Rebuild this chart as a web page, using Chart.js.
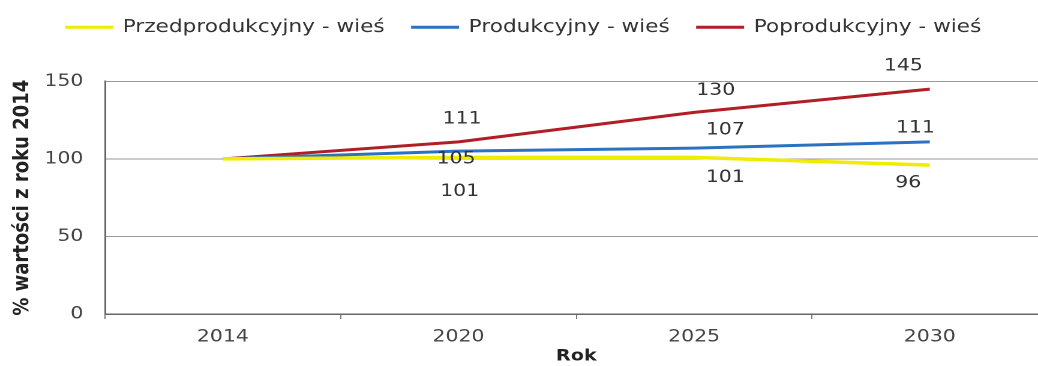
<!DOCTYPE html>
<html>
<head>
<meta charset="utf-8">
<script src="https://cdn.jsdelivr.net/npm/chart.js@4"></script>
<style>
  html, body { margin: 0; padding: 0; background: #fff; overflow: hidden; }
  #wrap { width: 1038px; height: 366px; overflow: hidden; }
  /* the source image is stretched sideways, so the chart is drawn narrower and stretched back;
     its plot runs a little past the right edge, hence the extra width that gets clipped */
  #box { width: 873px; height: 366px; transform: scaleX(1.2); transform-origin: 0 0; }
</style>
</head>
<body>
<div id="wrap"><div id="box"><canvas id="chart" width="873" height="366"></canvas></div></div>
<script>
// data
var years = ["2014", "2020", "2025", "2030"];
var przed = [100, 101, 101, 96];
var prod = [100, 105, 107, 111];
var popro = [100, 111, 130, 145];
var seriesNames = ["Przedprodukcyjny - wieś", "Produkcyjny - wieś", "Poprodukcyjny - wieś"];

// value labels next to the points (offsets in px from the point)
var pointLabels = {
    id: "pointLabels",
    afterDatasetsDraw: function (chart) {
        var c = chart.ctx;
        c.save();
        c.font = "17px 'DejaVu Sans'";
        c.fillStyle = "#333";
        c.textAlign = "center";
        c.textBaseline = "middle";
        chart.data.datasets.forEach(function (ds, i) {
            var meta = chart.getDatasetMeta(i);
            meta.data.forEach(function (pt, j) {
                if (j === 0) return;
                var off = ds.labelOffsets[j];
                c.fillText(ds.data[j], pt.x + off[0], pt.y + off[1]);
            });
        });
        c.restore();
    }
};

var ctx = document.getElementById("chart");
var myChart = new Chart(ctx, {
    type: "line",
    data: {
        labels: years,
        datasets: [
            {
                label: seriesNames[0],
                data: przed,
                borderColor: "#f0ec00",
                backgroundColor: "#f0ec00",
                borderWidth: 3.5,
                pointRadius: 0,
                tension: 0,
                labelOffsets: [[0, 0], [1, 34], [26, 20], [-18, 18]]
            },
            {
                label: seriesNames[1],
                data: prod,
                borderColor: "#2d72c2",
                backgroundColor: "#2d72c2",
                borderWidth: 3,
                pointRadius: 0,
                tension: 0,
                labelOffsets: [[0, 0], [-2, 8], [26, -18], [-12, -14]]
            },
            {
                label: seriesNames[2],
                data: popro,
                borderColor: "#b01e26",
                backgroundColor: "#b01e26",
                borderWidth: 3,
                pointRadius: 0,
                tension: 0,
                labelOffsets: [[0, 0], [3, -23], [18, -22], [-22, -23]]
            }
        ]
    },
    options: {
        responsive: false,
        animation: false,
        devicePixelRatio: 2,
        layout: { padding: { top: -8, right: 0, bottom: 0, left: 0 } },
        plugins: {
            tooltip: { enabled: false },
            legend: {
                position: "top",
                // blank title only pushes the legend row down a little
                title: { display: true, text: " ", font: { size: 1 }, padding: { top: 2, bottom: 0 } },
                labels: {
                    boxWidth: 38,
                    boxHeight: 1,
                    padding: 23,
                    color: "#333",
                    font: { family: "DejaVu Sans", size: 18 },
                    generateLabels: function (chart) {
                        var items = Chart.defaults.plugins.legend.labels.generateLabels(chart);
                        items.forEach(function (it) { it.lineWidth = 2; });
                        return items;
                    }
                }
            },
            // empty spacer between the legend and the plot
            subtitle: {
                display: true,
                text: "",
                weight: 500,
                font: { size: 1 },
                padding: { top: 34, bottom: 0 }
            }
        },
        scales: {
            x: {
                offset: true,
                grid: { display: true, drawOnChartArea: false, offset: true, tickLength: 5, color: "#777" },
                border: { color: "#666", width: 1.5 },
                ticks: { color: "#444", font: { family: "DejaVu Sans", size: 17 }, padding: 8 },
                title: { display: true, text: "Rok", color: "#222", font: { family: "DejaVu Sans", size: 16, weight: "bold" }, padding: 0 },
                afterFit: function (s) { s.height = 52; }
            },
            y: {
                min: 0,
                max: 150,
                ticks: { stepSize: 50, color: "#444", font: { family: "DejaVu Sans", size: 17 }, padding: 18 },
                grid: { color: "#999", tickLength: 0 },
                border: { color: "#666", width: 1.5 },
                title: { display: true, text: "% wartości z roku 2014", color: "#222", font: { family: "DejaVu Sans", size: 18, weight: "bold" }, padding: { top: 8, bottom: 0 } },
                afterFit: function (s) { s.width = 87.5; }
            }
        }
    },
    plugins: [pointLabels]
});
</script>
</body>
</html>
